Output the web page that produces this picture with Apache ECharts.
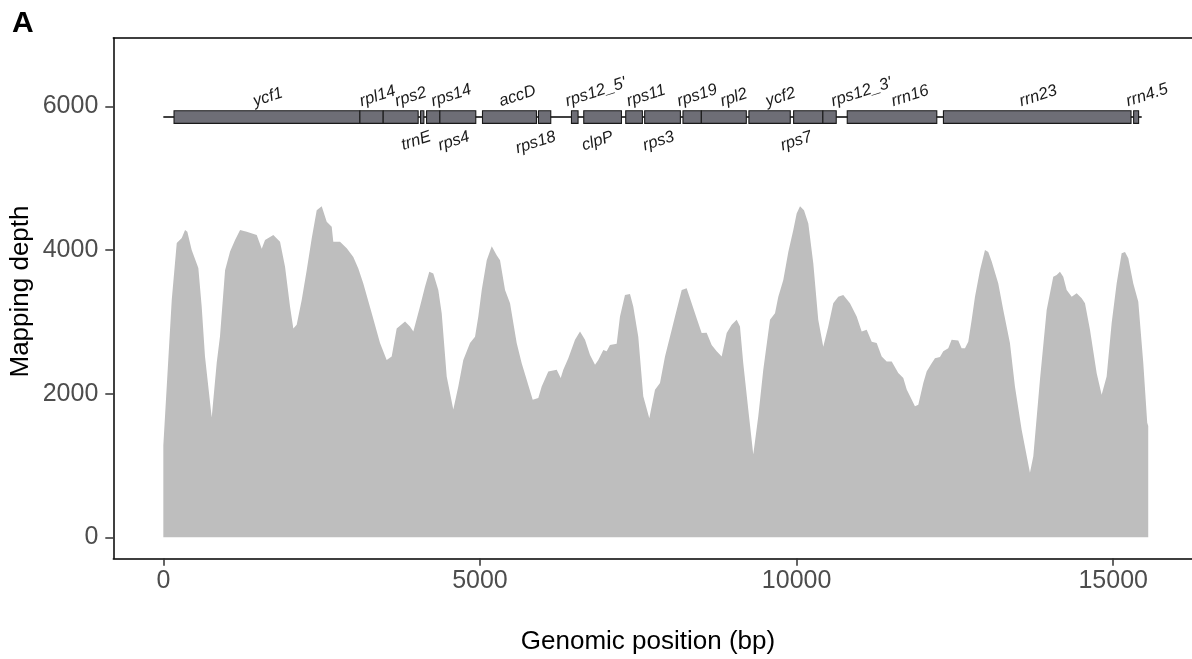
<!DOCTYPE html>
<html>
<head>
<meta charset="utf-8">
<script src="https://cdn.jsdelivr.net/npm/echarts@6/dist/echarts.min.js"></script>
<style>
  html, body { margin: 0; padding: 0; background: #ffffff; }
  #chart { width: 1192px; height: 659px; }
</style>
</head>
<body>
<div id="chart"></div>
<script>
// Mapping depth along the genome (position in bp, depth in reads)
const covPos = [
  0, 133, 212, 291, 343, 379, 448, 553, 606, 658, 764, 843, 895, 975, 1054, 1133,
  1212, 1317, 1475, 1554, 1606, 1737, 1843, 1922, 2001, 2053, 2106, 2185, 2264, 2343,
  2422, 2501, 2580, 2659, 2684, 2790, 2896, 3000, 3079, 3158, 3291, 3422, 3527, 3606,
  3685, 3817, 3895, 3948, 4053, 4132, 4200, 4263, 4342, 4396, 4475, 4579, 4658, 4737,
  4843, 4922, 4974, 5028, 5107, 5186, 5264, 5317, 5396, 5475, 5580, 5659, 5738, 5833,
  5921, 5975, 6079, 6212, 6275, 6316, 6395, 6501, 6580, 6659, 6738, 6817, 6869, 6948,
  7001, 7053, 7159, 7211, 7290, 7369, 7421, 7500, 7579, 7674, 7764, 7843, 7922, 8028,
  8080, 8186, 8264, 8343, 8422, 8501, 8580, 8659, 8738, 8817, 8896, 8975, 9054, 9106,
  9158, 9237, 9316, 9395, 9474, 9580, 9659, 9711, 9790, 9869, 9948, 10001, 10054, 10117,
  10185, 10264, 10342, 10421, 10500, 10579, 10658, 10737, 10843, 10949, 11028, 11107,
  11186, 11265, 11344, 11423, 11502, 11606, 11633, 11685, 11739, 11817, 11869, 11922,
  12001, 12054, 12133, 12185, 12264, 12316, 12395, 12448, 12553, 12606, 12659, 12711,
  12765, 12817, 12896, 12975, 13027, 13081, 13185, 13264, 13369, 13448, 13554, 13685,
  13738, 13843, 13949, 14053, 14107, 14159, 14211, 14265, 14344, 14423, 14502, 14554,
  14633, 14739, 14817, 14896, 14975, 15054, 15133, 15186, 15238, 15317, 15396, 15475,
  15537, 15553
];
const covDepth = [
  1280, 3310, 4100, 4170, 4280, 4255, 4000, 3750, 3210, 2520, 1670, 2430, 2800, 3720, 3980, 4140,
  4280, 4255, 4210, 4020, 4140, 4210, 4115, 3770, 3210, 2910, 2960, 3305, 3720, 4160,
  4555, 4610, 4395, 4325, 4115, 4115, 4025, 3905, 3745, 3535, 3120, 2705, 2470, 2520,
  2910, 3005, 2935, 2865, 3215, 3490, 3700, 3675, 3445, 3120, 2240, 1780, 2100, 2470,
  2705, 2795, 3075, 3445, 3860, 4055, 3930, 3860, 3445, 3260, 2705, 2425, 2195, 1915,
  1940, 2100, 2310, 2335, 2220, 2335, 2495, 2750, 2865, 2750, 2540, 2405, 2470, 2610,
  2590, 2680, 2695, 3075, 3375, 3390, 3215, 2795, 1965, 1660, 2055, 2150, 2520, 2890,
  3075, 3445, 3470, 3260, 3050, 2845, 2850, 2680, 2590, 2520, 2845, 2960, 3030, 2935,
  2425, 1780, 1155, 1685, 2335, 3030, 3120, 3350, 3585, 3975, 4280, 4510, 4610, 4555,
  4370, 3815, 3030, 2655, 2935, 3260, 3350, 3375, 3260, 3075, 2865, 2890,
  2725, 2705, 2520, 2450, 2450, 2290, 2300, 2220, 2060, 1920, 1825, 1845,
  2150, 2310, 2425, 2495, 2510, 2590, 2635, 2750, 2740, 2635, 2635, 2725,
  3030, 3350, 3720, 4000, 3975, 3840, 3535, 3165, 2705, 2100, 1500, 900,
  1130, 2195, 3165, 3630, 3655, 3700, 3630, 3445, 3350, 3400, 3330, 3260,
  2890, 2285, 1985, 2240, 2980, 3535, 3955, 3975, 3885, 3535, 3280, 2425,
  1595, 1550
];

// Annotated genes (start / end in bp)
const geneNames = ['ycf1', 'rpl14', 'rps2', 'trnE', 'rps14', 'rps4', 'accD', 'rps18',
  "rps12_5'", 'clpP', 'rps11', 'rps3', 'rps19', 'rpl2', 'ycf2', 'rps7', "rps12_3'",
  'rrn16', 'rrn23', 'rrn4.5'];
const geneStart = [169, 3104, 3472, 4062, 4157, 4367, 5040, 5924, 6445, 6639, 7302,
  7601, 8206, 8496, 9247, 9953, 10415, 10800, 12319, 15322];
const geneEnd = [3104, 3472, 4024, 4114, 4367, 4934, 5892, 6118, 6549, 7234, 7565,
  8165, 8496, 9206, 9900, 10415, 10626, 12214, 15281, 15401];

// Extent of the annotated region and the depth level where the gene track sits
const backboneStart = 0;
const backboneEnd = 15450;
const trackDepth = 5853;

// Axis tick values
const xTicks = [0, 5000, 10000, 15000];
const yTicks = [0, 2000, 4000, 6000];

// Gene label placement: side of the track and horizontal nudge in px
const labelLayout = {
  'ycf1': ['up', 1], 'rpl14': ['up', 6], 'rps2': ['up', 10], 'trnE': ['down', -6],
  'rps14': ['up', 18], 'rps4': ['down', -4], 'accD': ['up', 8], 'rps18': ['down', -9],
  "rps12_5'": ['up', 21], 'clpP': ['down', -5], 'rps11': ['up', 12], 'rps3': ['down', -4],
  'rps19': ['up', 5], 'rpl2': ['up', 10], 'ycf2': ['up', 11], 'rps7': ['down', -12],
  "rps12_3'": ['up', 32], 'rrn16': ['up', 18], 'rrn23': ['up', 1], 'rrn4.5': ['up', 11]
};

const FAMILY = '"Liberation Sans", Arial, Helvetica, sans-serif';
const LABEL_SIZE = 16.5;
const LABEL_FONT = 'italic ' + LABEL_SIZE + 'px ' + FAMILY;
const LABEL_ANGLE = 18 * Math.PI / 180;
const RECT_HALF = 6.3;

const measureCtx = document.createElement('canvas').getContext('2d');
measureCtx.font = LABEL_FONT;

function renderGene(params, api) {
  const i = params.dataIndex;
  const a = api.coord([api.value(0), api.value(2)]);
  const b = api.coord([api.value(1), api.value(2)]);
  const cy = a[1];
  const name = geneNames[i];
  const lay = labelLayout[name];
  const w = measureCtx.measureText(name).width;
  const halfExtent = (w / 2) * Math.sin(LABEL_ANGLE) + (LABEL_SIZE / 2) * Math.cos(LABEL_ANGLE);
  const lx = (a[0] + b[0]) / 2 + lay[1];
  const ly = lay[0] === 'up'
    ? cy - RECT_HALF - 1 - halfExtent
    : cy + RECT_HALF + 5 + halfExtent;
  return {
    type: 'group',
    children: [
      {
        type: 'rect',
        shape: { x: a[0], y: cy - RECT_HALF, width: b[0] - a[0], height: RECT_HALF * 2 },
        style: { fill: '#6e6e76', stroke: '#1a1a1a', lineWidth: 1.1 }
      },
      {
        type: 'text',
        x: lx, y: ly,
        rotation: LABEL_ANGLE,
        style: {
          text: name, font: LABEL_FONT, fill: '#1a1a1a',
          align: 'center', verticalAlign: 'middle'
        }
      }
    ]
  };
}

const chart = echarts.init(document.getElementById('chart'), null, { renderer: 'canvas' });

const axisLineStyle = { color: '#000000', width: 1.5 };
const tickLineStyle = { color: '#333333', width: 1.5 };
const tickLabel = {
  fontFamily: FAMILY, fontSize: 25, color: '#4d4d4d',
  formatter: (v) => String(v)
};

chart.setOption({
  animation: false,
  backgroundColor: '#ffffff',
  grid: { left: 113.3, right: 0, top: 38, bottom: 100.7, containLabel: false },
  xAxis: [
    {
      type: 'value', min: -790, max: 16244, position: 'bottom',
      axisLine: { show: true, onZero: false, lineStyle: axisLineStyle },
      axisTick: { show: true, customValues: xTicks, length: 7.5, lineStyle: tickLineStyle },
      axisLabel: Object.assign({ customValues: xTicks, margin: 10 }, tickLabel),
      splitLine: { show: false }
    },
    {
      type: 'value', min: -790, max: 16244, position: 'top',
      axisLine: { show: true, onZero: false, lineStyle: axisLineStyle },
      axisTick: { show: false }, axisLabel: { show: false }, splitLine: { show: false }
    }
  ],
  yAxis: {
    type: 'value', min: -292, max: 6954,
    axisLine: { show: true, onZero: false, lineStyle: axisLineStyle },
    axisTick: { show: true, customValues: yTicks, length: 8, lineStyle: tickLineStyle },
    axisLabel: Object.assign({ customValues: yTicks, margin: 15 }, tickLabel),
    splitLine: { show: false }
  },
  graphic: [
    {
      type: 'text', left: 12, top: 9,
      style: { text: 'A', font: 'bold 30px ' + FAMILY, fill: '#000000' }
    },
    {
      type: 'text', x: 648, y: 642,
      style: { text: 'Genomic position (bp)', font: '26px ' + FAMILY, fill: '#000000',
        align: 'center', verticalAlign: 'middle' }
    },
    {
      type: 'text', x: 21, y: 291.5, rotation: Math.PI / 2,
      style: { text: 'Mapping depth', font: '26px ' + FAMILY, fill: '#000000',
        align: 'center', verticalAlign: 'middle' }
    }
  ],
  series: [
    {
      name: 'depth', type: 'line', xAxisIndex: 0,
      data: covPos.map((p, i) => [p, covDepth[i]]),
      symbol: 'none', smooth: false,
      lineStyle: { width: 0, color: '#bebebe' },
      areaStyle: { color: '#bebebe', opacity: 1 },
      z: 1
    },
    {
      name: 'backbone', type: 'line', xAxisIndex: 0,
      data: [[backboneStart, trackDepth], [backboneEnd, trackDepth]],
      symbol: 'none',
      lineStyle: { width: 1.5, color: '#000000' },
      z: 2
    },
    {
      name: 'genes', type: 'custom', xAxisIndex: 0,
      data: geneNames.map((n, i) => [geneStart[i], geneEnd[i], trackDepth]),
      encode: { x: [0, 1], y: 2 },
      renderItem: renderGene,
      clip: false,
      z: 3
    }
  ]
});
</script>
</body>
</html>
